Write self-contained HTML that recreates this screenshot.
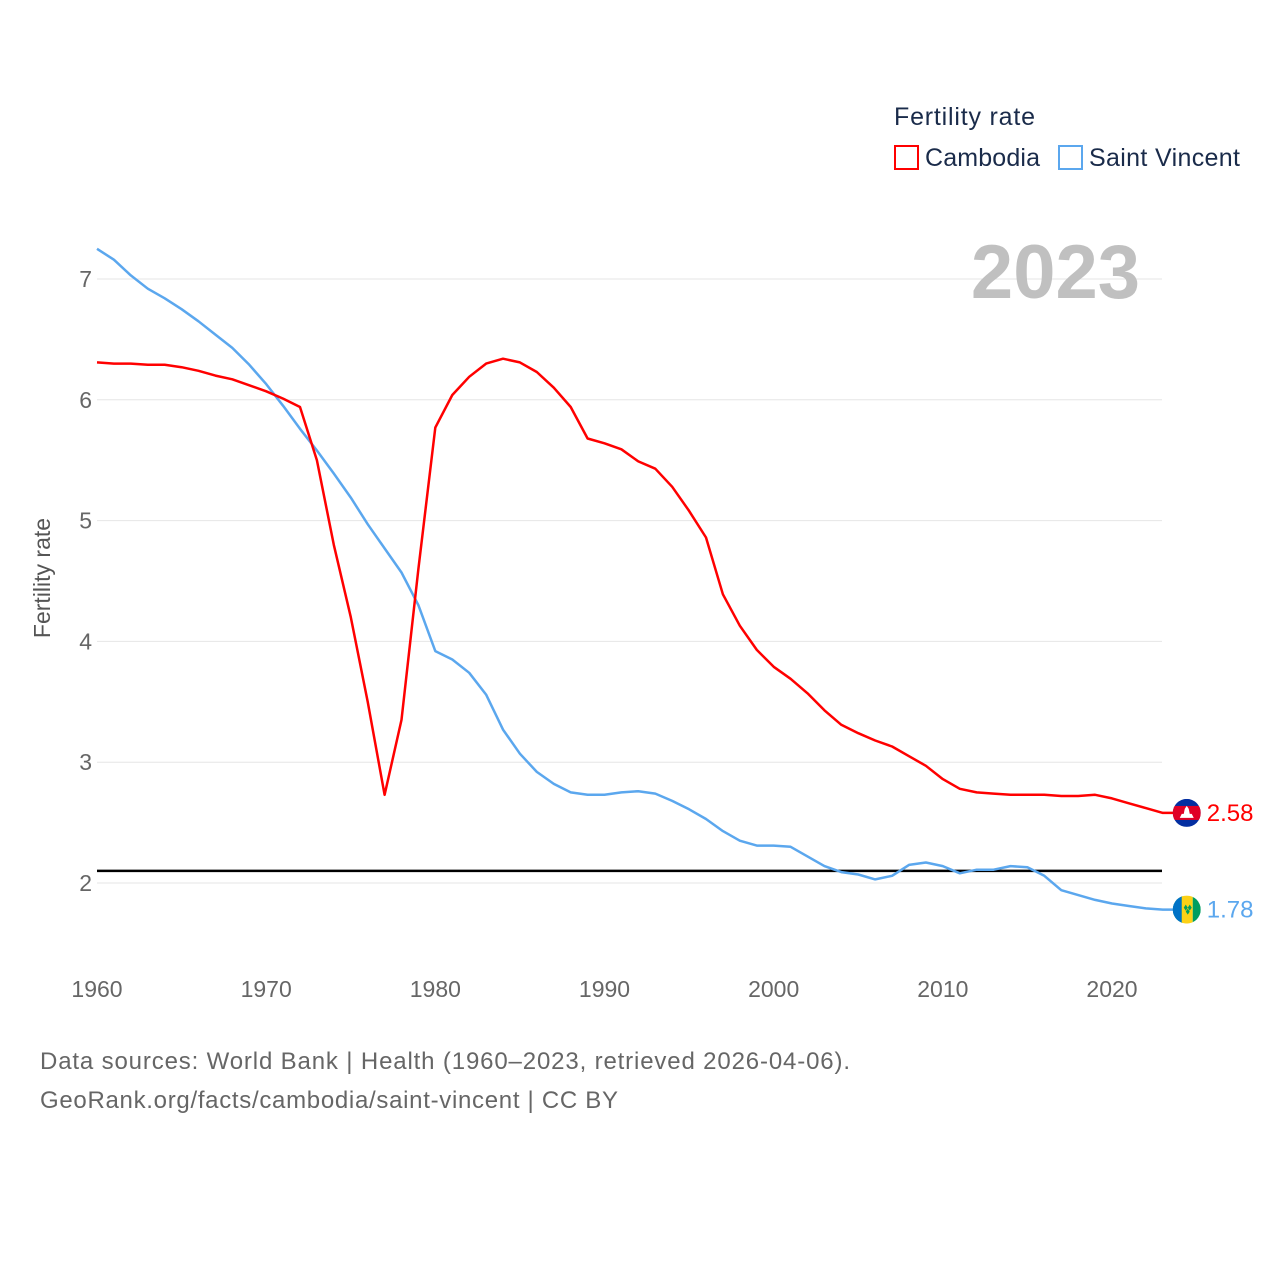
<!DOCTYPE html>
<html><head><meta charset="utf-8"><style>
body{margin:0;background:#fff;font-family:"Liberation Sans",sans-serif}
svg text{font-family:"Liberation Sans",sans-serif}
</style></head><body>
<svg id="chart" width="1280" height="1280" viewBox="0 0 1280 1280" xmlns="http://www.w3.org/2000/svg">
<defs>
<clipPath id="clipK"><circle cx="0" cy="0" r="14"/></clipPath>
</defs>
<rect width="1280" height="1280" fill="#fff"/>
<g id="grid"></g>
<g id="yticks"></g>
<g id="xticks"></g>
<text x="50" y="578" transform="rotate(-90 50 578)" text-anchor="middle" font-size="23" fill="#555">Fertility rate</text>
<text x="1140" y="298" text-anchor="end" font-size="76" font-weight="bold" fill="#c0c0c0">2023</text>
<g>
<text x="894" y="125" font-size="25" fill="#1a2b4a" textLength="141">Fertility rate</text>
<g><rect x="895" y="146" width="23" height="23" fill="none" stroke="#ff0000" stroke-width="2"/><text x="925" y="166" font-size="25" fill="#1a2b4a" textLength="115">Cambodia</text></g>
<g><rect x="1059" y="146" width="23" height="23" fill="none" stroke="#5ba7ee" stroke-width="2"/><text x="1089" y="166" font-size="25" fill="#1a2b4a" textLength="151">Saint Vincent</text></g>
</g>
<g id="series"></g>
<text x="40" y="1069" font-size="24" fill="#666" textLength="810">Data sources: World Bank | Health (1960–2023, retrieved 2026-04-06).</text>
<text x="40" y="1108" font-size="24" fill="#666" textLength="578">GeoRank.org/facts/cambodia/saint-vincent | CC BY</text>
</svg>
<script>
const years = Array.from({length:64},(_, i)=>1960+i);
const cambodia = [6.31,6.30,6.30,6.29,6.29,6.27,6.24,6.20,6.17,6.12,6.07,6.01,5.94,5.5,4.8,4.2,3.5,2.73,3.35,4.6,5.77,6.04,6.19,6.30,6.34,6.31,6.23,6.10,5.94,5.68,5.64,5.59,5.49,5.43,5.28,5.08,4.86,4.39,4.13,3.93,3.79,3.69,3.57,3.43,3.31,3.24,3.18,3.13,3.05,2.97,2.86,2.78,2.75,2.74,2.73,2.73,2.73,2.72,2.72,2.73,2.70,2.66,2.62,2.58];
const saintVincent = [7.25,7.16,7.03,6.92,6.84,6.75,6.65,6.54,6.43,6.29,6.13,5.95,5.76,5.58,5.39,5.19,4.97,4.77,4.57,4.30,3.92,3.85,3.74,3.56,3.27,3.07,2.92,2.82,2.75,2.73,2.73,2.75,2.76,2.74,2.68,2.61,2.53,2.43,2.35,2.31,2.31,2.30,2.22,2.14,2.09,2.07,2.03,2.06,2.15,2.17,2.14,2.08,2.11,2.11,2.14,2.13,2.06,1.94,1.90,1.86,1.83,1.81,1.79,1.78];
const yTicks = [2,3,4,5,6,7];
const xTicks = [1960,1970,1980,1990,2000,2010,2020];
const replacementRate = [2.1];
const NS="http://www.w3.org/2000/svg";
const X = y => 97 + (y-1960)*(1112-97)/60;
const Y = v => 883 - (v-2)*(883-279)/5;
function mk(t,a,p){const e=document.createElementNS(NS,t);for(const k in a)e.setAttribute(k,a[k]);p.appendChild(e);return e;}
const grid=document.getElementById('grid'),yt=document.getElementById('yticks'),xt=document.getElementById('xticks'),ser=document.getElementById('series');
yTicks.forEach(v=>{
 const l=mk('line',{x1:97,x2:1162,y1:Y(v),y2:Y(v),stroke:'#e6e6e6','stroke-width':1},grid);
 
 
 const t=mk('text',{x:92,y:Y(v)+8,'text-anchor':'end','font-size':23,fill:'#666'},yt);t.textContent=v;
 
 
});
xTicks.forEach(v=>{
 const t=mk('text',{x:X(v),y:997,'text-anchor':'middle','font-size':23,fill:'#666'},xt);t.textContent=v;
 
 
});
const ref=mk('line',{x1:97,x2:1162,y1:Y(replacementRate[0]),y2:Y(replacementRate[0]),stroke:'#000','stroke-width':2.5},ser);


function flag(g,kind){
 if(kind==='kh'){
  mk('rect',{x:-14,y:-14,width:28,height:28,fill:'#032ea1'},g);
  mk('rect',{x:-14,y:-7,width:28,height:14,fill:'#e00025'},g);
  mk('path',{d:'M-7 5 L7 5 L5 1 L3 1 L2 -4 L0 -7 L-2 -4 L-3 1 L-5 1 Z',fill:'#fff'},g);
 } else {
  mk('rect',{x:-14,y:-14,width:10,height:28,fill:'#009e60'},g);
  mk('rect',{x:-14,y:-14,width:9,height:28,fill:'#0072c6'},g);
  mk('rect',{x:-5,y:-14,width:11,height:28,fill:'#fcd116'},g);
  mk('rect',{x:6,y:-14,width:8,height:28,fill:'#009e60'},g);
  mk('path',{d:'M-3 -2 L-1 -5 L1 -2 L-1 1 Z M1 -2 L3 -5 L5 -2 L3 1 Z M-1 2 L1 -1 L3 2 L1 5 Z',fill:'#009e60'},g);
 }
}
function line(vals,col,name,kind){
 const d=vals.map((v,i)=>(i?'L':'M')+X(years[i]).toFixed(1)+' '+Y(v).toFixed(1)).join(' ');
 const last=vals[vals.length-1],cx=X(years[years.length-1])+24,cy=Y(last);
 const p=mk('path',{d:d+' L'+cx+' '+cy.toFixed(1),fill:'none',stroke:col,'stroke-width':2.5,'stroke-linejoin':'round'},ser);
 
 
 const g=mk('g',{transform:'translate('+cx+' '+cy+')','clip-path':'url(#clipK)'},ser);
 
 
 flag(g,kind);
 const t=mk('text',{x:cx+20,y:cy+8,'font-size':24,fill:col},ser);t.textContent=last.toFixed(2);
 
 
}
line(saintVincent,'#5ba7ee','saint-vincent','vc');
line(cambodia,'#ff0000','cambodia','kh');
</script>
</body></html>
